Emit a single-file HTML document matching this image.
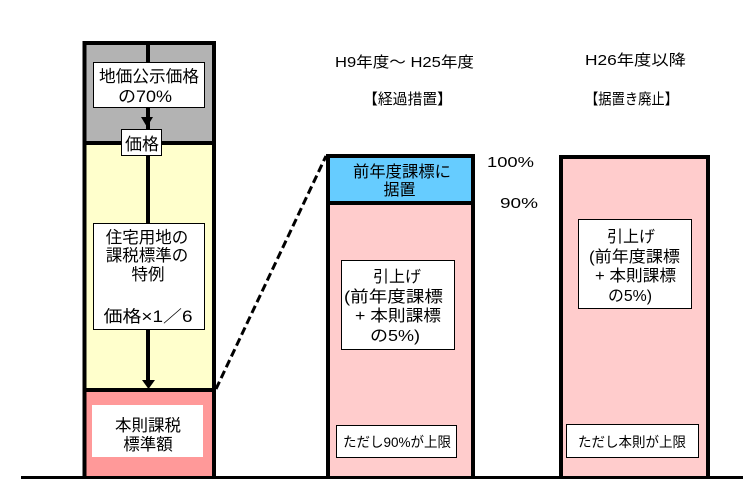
<!DOCTYPE html>
<html><head><meta charset="utf-8"><style>
html,body{margin:0;padding:0;background:#fff;}
svg{display:block;}
text{font-family:"Liberation Sans","Noto Sans CJK JP",sans-serif;fill:#000;}
</style></head><body>
<svg width="752" height="498" viewBox="0 0 752 498" xmlns="http://www.w3.org/2000/svg">
<!-- left column fills -->
<rect x="85" y="43" width="129" height="100" fill="#b3b3b3"/>
<rect x="85" y="143" width="129" height="247" fill="#ffffcc"/>
<rect x="85" y="390" width="129" height="87" fill="#ff9999"/>
<!-- center vertical line -->
<line x1="148" y1="43" x2="148" y2="382" stroke="#000" stroke-width="4"/>
<polygon points="141,117 153,117 147,127" fill="#000"/>
<polygon points="142,380 155,380 148.5,389" fill="#000"/>
<!-- left column borders -->
<line x1="84.5" y1="41" x2="84.5" y2="478" stroke="#000" stroke-width="4"/>
<line x1="214" y1="41" x2="214" y2="478" stroke="#000" stroke-width="4"/>
<line x1="83" y1="43" x2="216" y2="43" stroke="#000" stroke-width="4"/>
<line x1="83" y1="143" x2="216" y2="143" stroke="#000" stroke-width="4"/>
<line x1="83" y1="390" x2="216" y2="390" stroke="#000" stroke-width="4"/>
<!-- boxes left -->
<rect x="93.5" y="62.5" width="111" height="45" fill="#fff" stroke="#000" stroke-width="1"/>
<text x="149" y="82" font-size="16.5" text-anchor="middle" textLength="100" lengthAdjust="spacingAndGlyphs">地価公示価格</text>
<text x="145" y="102" font-size="16.5" text-anchor="middle" textLength="54" lengthAdjust="spacingAndGlyphs">の70%</text>
<rect x="121.5" y="129.5" width="40" height="26" fill="#fff" stroke="#000" stroke-width="1"/>
<text x="142" y="150" font-size="17" text-anchor="middle">価格</text>
<rect x="93.5" y="223.5" width="111" height="106" fill="#fff" stroke="#000" stroke-width="1"/>
<text x="147" y="243" font-size="16.5" text-anchor="middle">住宅用地の</text>
<text x="147" y="261" font-size="16.5" text-anchor="middle">課税標準の</text>
<text x="148" y="280" font-size="16.5" text-anchor="middle">特例</text>
<text x="148" y="322" font-size="16.5" text-anchor="middle" textLength="89" lengthAdjust="spacingAndGlyphs">価格×1／6</text>
<rect x="92" y="405" width="111" height="52" fill="#fff"/>
<text x="148" y="431" font-size="16.5" text-anchor="middle">本則課税</text>
<text x="148" y="450" font-size="16.5" text-anchor="middle">標準額</text>
<!-- dashed connector -->
<line x1="216" y1="389" x2="326" y2="156" stroke="#000" stroke-width="3" stroke-dasharray="8,4"/>
<!-- middle column -->
<rect x="328" y="156" width="145" height="47" fill="#66ccff"/>
<rect x="328" y="203" width="145" height="274" fill="#ffcccc"/>
<line x1="328" y1="154" x2="328" y2="478" stroke="#000" stroke-width="4"/>
<line x1="473" y1="154" x2="473" y2="478" stroke="#000" stroke-width="4"/>
<line x1="326" y1="156" x2="475" y2="156" stroke="#000" stroke-width="4"/>
<line x1="326" y1="203" x2="475" y2="203" stroke="#000" stroke-width="4"/>
<text x="404.5" y="67" font-size="15" text-anchor="middle" textLength="139" lengthAdjust="spacingAndGlyphs">H9年度～ H25年度</text>
<text x="407.5" y="104" font-size="15" text-anchor="middle" textLength="89" lengthAdjust="spacingAndGlyphs">【経過措置】</text>
<text x="402" y="177" font-size="16" text-anchor="middle" textLength="98" lengthAdjust="spacingAndGlyphs">前年度課標に</text>
<text x="399.5" y="195" font-size="16" text-anchor="middle">据置</text>
<text x="510.5" y="167" font-size="15" text-anchor="middle" textLength="47" lengthAdjust="spacingAndGlyphs">100%</text>
<text x="519" y="208" font-size="15" text-anchor="middle" textLength="38" lengthAdjust="spacingAndGlyphs">90%</text>
<rect x="341.5" y="260.5" width="113" height="89" fill="#fff" stroke="#000" stroke-width="1"/>
<text x="397" y="282" font-size="16" text-anchor="middle">引上げ</text>
<text x="393.5" y="302" font-size="16" text-anchor="middle" textLength="99" lengthAdjust="spacingAndGlyphs">(前年度課標</text>
<text x="398" y="321" font-size="16" text-anchor="middle" textLength="86" lengthAdjust="spacingAndGlyphs">+ 本則課標</text>
<text x="395" y="341" font-size="16" text-anchor="middle" textLength="50" lengthAdjust="spacingAndGlyphs">の5%)</text>
<rect x="336.5" y="425.5" width="120" height="32" fill="#fff" stroke="#000" stroke-width="1"/>
<text x="397" y="447" font-size="14" text-anchor="middle" textLength="108" lengthAdjust="spacingAndGlyphs">ただし90%が上限</text>
<!-- right column -->
<rect x="561" y="157" width="147" height="320" fill="#ffcccc"/>
<line x1="561" y1="155" x2="561" y2="478" stroke="#000" stroke-width="4"/>
<line x1="708" y1="155" x2="708" y2="478" stroke="#000" stroke-width="4"/>
<line x1="559" y1="157" x2="710" y2="157" stroke="#000" stroke-width="4"/>
<text x="635.5" y="65" font-size="15" text-anchor="middle" textLength="101" lengthAdjust="spacingAndGlyphs">H26年度以降</text>
<text x="631.5" y="104" font-size="15" text-anchor="middle" textLength="93" lengthAdjust="spacingAndGlyphs">【据置き廃止】</text>
<rect x="578.5" y="219.5" width="113" height="89" fill="#fff" stroke="#000" stroke-width="1"/>
<text x="631" y="242" font-size="16" text-anchor="middle">引上げ</text>
<text x="634.5" y="262" font-size="16" text-anchor="middle" textLength="91" lengthAdjust="spacingAndGlyphs">(前年度課標</text>
<text x="635.5" y="281" font-size="16" text-anchor="middle" textLength="81" lengthAdjust="spacingAndGlyphs">+ 本則課標</text>
<text x="630" y="301" font-size="16" text-anchor="middle" textLength="44" lengthAdjust="spacingAndGlyphs">の5%)</text>
<rect x="566.5" y="424.5" width="132" height="33" fill="#fff" stroke="#000" stroke-width="1"/>
<text x="632" y="447" font-size="14" text-anchor="middle" textLength="108" lengthAdjust="spacingAndGlyphs">ただし本則が上限</text>
<!-- baseline -->
<line x1="21" y1="477.5" x2="743" y2="477.5" stroke="#000" stroke-width="3"/>
</svg>
</body></html>
